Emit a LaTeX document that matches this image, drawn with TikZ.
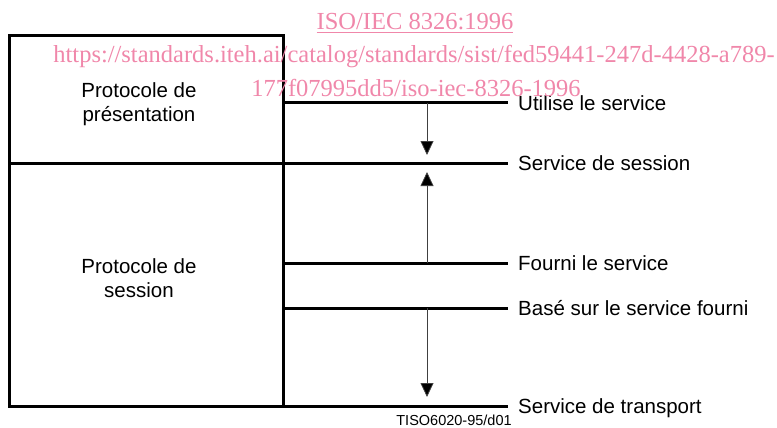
\documentclass[tikz,border=0pt]{standalone}
\usepackage{fontspec}
\setmainfont{Liberation Sans}
\newfontfamily\wmfont{Liberation Serif}
\usetikzlibrary{arrows.meta}
\definecolor{wmpink}{RGB}{240,135,170}

\begin{document}
\begin{tikzpicture}[x=1pt,y=-1pt]
\tikzstyle{boite}=[draw, line width=3pt, minimum width=274pt, inner sep=0pt]
\tikzstyle{lab}=[anchor=west, inner sep=0pt, text height=14.5pt, text depth=0pt, font=\fontsize{20.5}{24}\selectfont]
\tikzstyle{trait}=[line width=3pt]
\tikzstyle{fleche}=[line width=0.8pt, draw=black!75, -{Triangle[length=14pt,width=13pt,fill=black]}]
\tikzstyle{wm}=[inner sep=0pt, text=wmpink, font=\wmfont\fontsize{24.5}{28}\selectfont]
\useasboundingbox (0,0) rectangle (777,428);
%boites
\node[boite, minimum height=127pt] (pres) at (146,99.5) {};
\node[boite, minimum height=243pt] (sess) at (146,284.5) {};
\node[align=center, font=\fontsize{20.5}{24}\selectfont] (ptxt) at (139,104) {Protocole de\\présentation};
\node[align=center, font=\fontsize{20.5}{24}\selectfont] (stxt) at (139,278) {Protocole de\\session};
%services
\node[lab] (util) at (518,103) {Utilise le service};
\node[lab] (sds) at (518,163) {Service de session};
\node[lab] (four) at (518,263) {Fourni le service};
\node[lab] (base) at (518,308) {Basé sur le service fourni};
\node[lab] (sdt) at (518,406) {Service de transport};
\draw[trait] (pres.east |- util.west) -- ([xshift=-10pt]util.west);
\draw[trait] (pres.east |- sds.west) -- ([xshift=-10pt]sds.west);
\draw[trait] (sess.east |- four.west) -- ([xshift=-10pt]four.west);
\draw[trait] (sess.east |- base.west) -- ([xshift=-10pt]base.west);
\draw[trait] (sess.east |- sdt.west) -- ([xshift=-10pt]sdt.west);
%fleches
\draw[fleche, shorten >=8pt] ([xshift=-91pt]util.west) -- ([xshift=-91pt]sds.west);
\draw[fleche, shorten >=9pt] ([xshift=-91pt]four.west) -- ([xshift=-91pt]sds.west);
\draw[fleche, shorten >=9pt] ([xshift=-91pt]base.west) -- ([xshift=-91pt]sdt.west);
\node[inner sep=1pt, font=\fontsize{14.5}{17}\selectfont] (ref) at (454,420) {TISO6020-95/d01};
%filigrane
\node[wm] (iso) at (415,23) {\underline{ISO/IEC 8326:1996}};
\node[wm] (url1) at (414,57) {https://standards.iteh.ai/catalog/standards/sist/fed59441-247d-4428-a789-};
\node[wm] (url2) at (416,88) {177f07995dd5/iso-iec-8326-1996};
\end{tikzpicture}
\end{document}
